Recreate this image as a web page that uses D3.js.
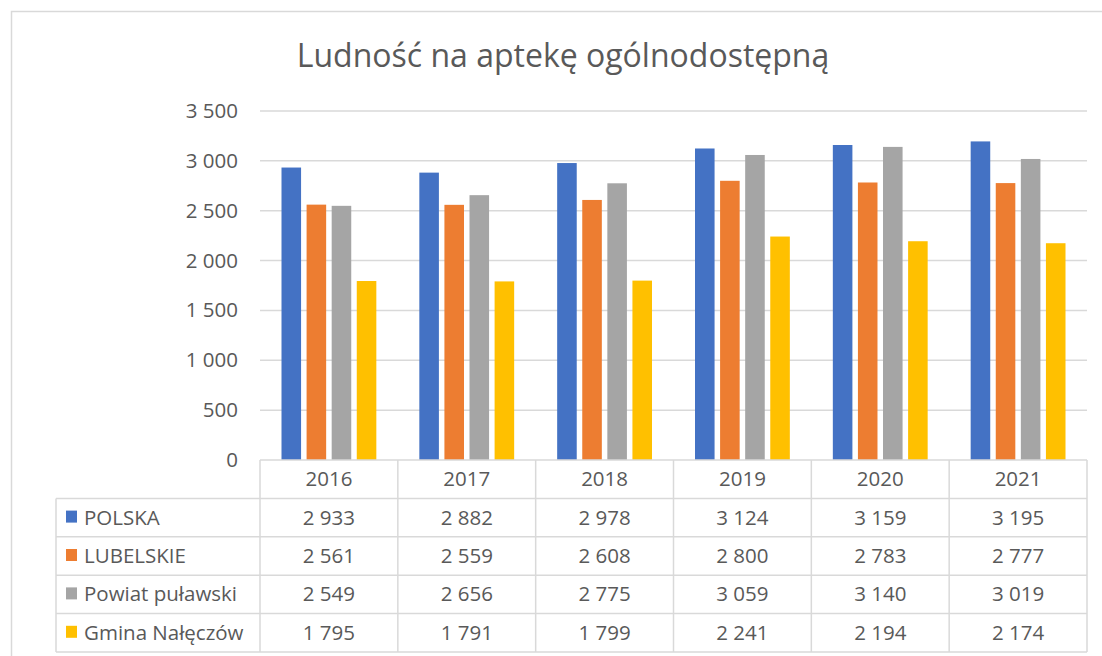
<!DOCTYPE html>
<html>
<head>
<meta charset="utf-8">
<script src="https://cdn.jsdelivr.net/npm/d3@7"></script>
<style>
  body { margin: 0; background: #fff; }
  text { font-family: "Open Sans", "Liberation Sans", sans-serif; fill: #595959; }
</style>
</head>
<body>
<div id="chart"></div>
<script>
const years = ["2016", "2017", "2018", "2019", "2020", "2021"];
const seriesNames = ["POLSKA", "LUBELSKIE", "Powiat puławski", "Gmina Nałęczów"];
const polska = [2933, 2882, 2978, 3124, 3159, 3195];
const lubelskie = [2561, 2559, 2608, 2800, 2783, 2777];
const powiat = [2549, 2656, 2775, 3059, 3140, 3019];
const gmina = [1795, 1791, 1799, 2241, 2194, 2174];
const colors = ["#4472c4", "#ed7d31", "#a5a5a5", "#ffc000"];
const yTicks = [0, 500, 1000, 1500, 2000, 2500, 3000, 3500];

const values = [polska, lubelskie, powiat, gmina];

const W = 1102, H = 656;
const plot = {left: 260, right: 1087, top: 111, bottom: 460};
const tableLeft = 56, rowH = 38.4;
const fontSize = "20.5px";

const fmt = n => d3.format(",")(n).replace(/,/g, " ");

const svg = d3.select("#chart").append("svg")
  .attr("width", W).attr("height", H);

// chart border
svg.append("rect")
  .attr("x", 11.5).attr("y", 11.5)
  .attr("width", W).attr("height", H)
  .attr("fill", "none").attr("stroke", "#d9d9d9").attr("stroke-width", 1.5);

// title
svg.append("text")
  .attr("x", 563).attr("y", 67)
  .attr("text-anchor", "middle")
  .style("font-size", "32px")
  .text("Ludność na aptekę ogólnodostępną");

// scales
const x0 = d3.scaleBand().domain(years).range([plot.left, plot.right]);
const x1 = d3.scaleBand().domain(d3.range(4))
  .range([21.5, x0.bandwidth() - 21.5]).paddingInner(0.22);
const y = d3.scaleLinear().domain([0, 3500]).range([plot.bottom, plot.top]);

// gridlines
svg.append("g").selectAll("line")
  .data(yTicks.filter(d => d > 0))
  .enter().append("line")
    .attr("x1", plot.left).attr("x2", plot.right)
    .attr("y1", d => y(d)).attr("y2", d => y(d))
    .attr("stroke", "#d9d9d9").attr("stroke-width", 1.5);

// y axis labels
const yAxis = svg.append("g")
  .attr("transform", "translate(" + (plot.left - 14) + ",0)")
  .call(d3.axisLeft(y).tickValues(yTicks).tickFormat(fmt).tickSize(0).tickPadding(8));
yAxis.select(".domain").remove();
yAxis.selectAll("text")
  .style("font-size", fontSize)
  .style("font-family", "'Open Sans', sans-serif")
  .attr("fill", "#595959");

// bars
const groups = svg.append("g").selectAll("g")
  .data(years)
  .enter().append("g")
    .attr("transform", d => "translate(" + x0(d) + ",0)");

groups.selectAll("rect")
  .data((d, i) => values.map((s, k) => ({k: k, v: s[i]})))
  .enter().append("rect")
    .attr("x", d => x1(d.k))
    .attr("width", x1.bandwidth())
    .attr("y", d => y(d.v))
    .attr("height", d => y(0) - y(d.v))
    .attr("fill", d => colors[d.k]);

// data table
const table = svg.append("g");
const lineStyle = sel => sel.attr("stroke", "#d9d9d9").attr("stroke-width", 1.5);
const tableBottom = plot.bottom + rowH * 5;

// horizontal lines
table.append("line").attr("x1", plot.left).attr("x2", plot.right)
  .attr("y1", plot.bottom).attr("y2", plot.bottom).call(lineStyle);
d3.range(1, 6).forEach(r => {
  table.append("line").attr("x1", tableLeft).attr("x2", plot.right)
    .attr("y1", plot.bottom + r * rowH).attr("y2", plot.bottom + r * rowH).call(lineStyle);
});
// vertical lines
table.append("line").attr("x1", tableLeft).attr("x2", tableLeft)
  .attr("y1", plot.bottom + rowH).attr("y2", tableBottom).call(lineStyle);
years.concat(["end"]).forEach((yr, i) => {
  const xx = i < years.length ? x0(yr) : plot.right;
  table.append("line").attr("x1", xx).attr("x2", xx)
    .attr("y1", plot.bottom).attr("y2", tableBottom).call(lineStyle);
});

// header
table.selectAll(".yr")
  .data(years)
  .enter().append("text")
    .attr("x", d => x0(d) + x0.bandwidth() / 2)
    .attr("y", plot.bottom + rowH / 2 + 7)
    .attr("text-anchor", "middle")
    .style("font-size", fontSize)
    .text(d => d);

// rows
seriesNames.forEach((name, k) => {
  const cy = plot.bottom + rowH * (k + 1) + rowH / 2;
  table.append("rect")
    .attr("x", 66).attr("y", cy - 7)
    .attr("width", 11).attr("height", 12)
    .attr("fill", colors[k]);
  table.append("text")
    .attr("x", 84).attr("y", cy + 7)
    .style("font-size", fontSize)
    .text(name);
  table.selectAll(null)
    .data(values[k])
    .enter().append("text")
      .attr("x", (d, i) => x0(years[i]) + x0.bandwidth() / 2)
      .attr("y", cy + 7)
      .attr("text-anchor", "middle")
      .style("font-size", fontSize)
      .text(d => fmt(d));
});
</script>
</body>
</html>
